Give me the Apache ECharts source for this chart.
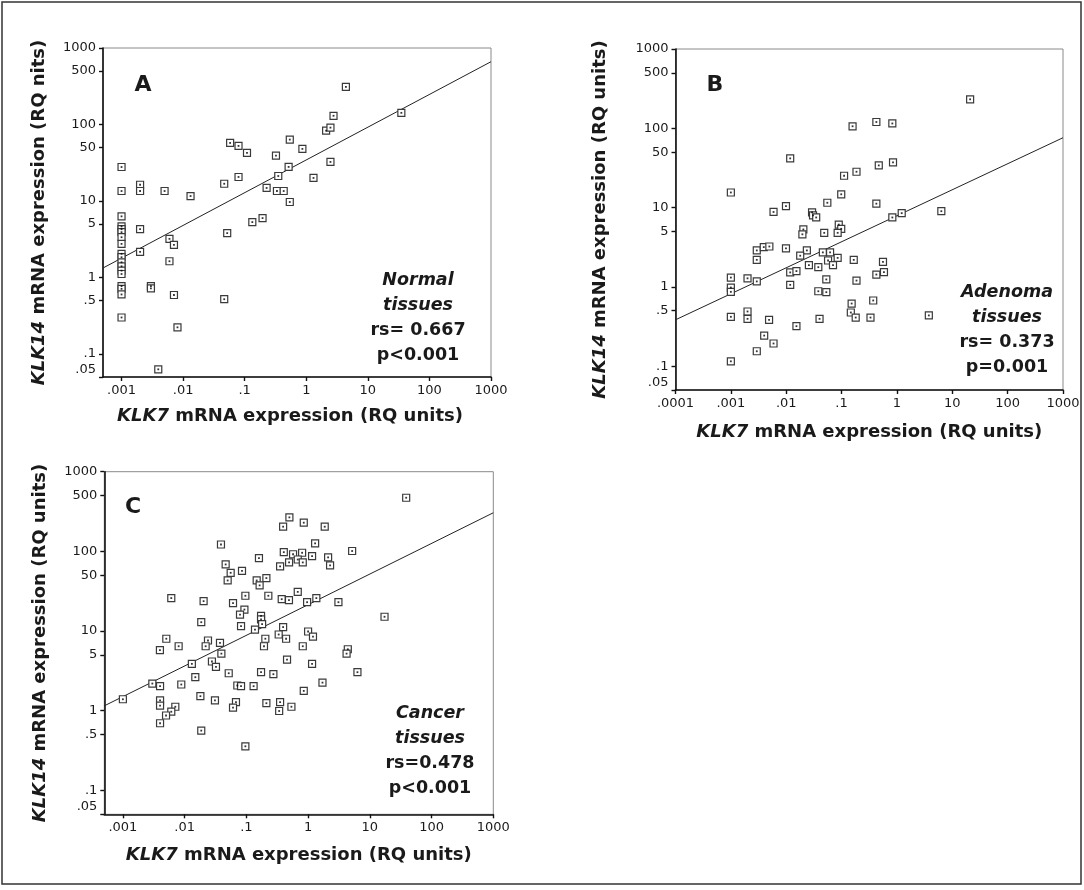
<!DOCTYPE html>
<html>
<head>
<meta charset="utf-8">
<script src="https://cdn.jsdelivr.net/npm/echarts@6/dist/echarts.min.js"></script>
<style>
  html, body { margin: 0; padding: 0; background: #fff; }
  #chart { width: 1084px; height: 890px; }
</style>
</head>
<body>
<div id="chart"></div>
<script>
// KLK7 (x) vs KLK14 (y) relative quantity, one pair of arrays per tissue type
const normalKlk7 = [0.001, 0.001, 0.001, 0.001, 0.001, 0.001, 0.001, 0.001, 0.001, 0.001, 0.001, 0.001, 0.001, 0.001, 0.001, 0.001, 0.001, 0.001,
  0.002, 0.002, 0.002, 0.002, 0.003, 0.003, 0.00395, 0.005, 0.006, 0.006, 0.0071, 0.0071, 0.0081, 0.0132,
  0.0465, 0.0465, 0.052, 0.058, 0.0794, 0.0794, 0.109, 0.133, 0.195, 0.227, 0.322, 0.334, 0.351, 0.43,
  0.517, 0.54, 0.54, 0.865, 1.31, 2.1, 2.47, 2.47, 2.77, 4.4, 35];
const normalKlk14 = [27.8, 13.5, 6.3, 4.65, 4.28, 3.91, 3.36, 2.75, 2.04, 1.84, 1.58, 1.4, 1.23, 1.11, 0.77, 0.71, 0.6, 0.3,
  16.3, 13.5, 4.28, 2.16, 0.77, 0.72, 0.063, 13.5, 3.2, 1.63, 2.67, 0.59, 0.223, 11.6,
  16.8, 0.52, 3.8, 57.4, 52.5, 20.6, 42.5, 5.3, 5.97, 14.8, 39.2, 13.5, 21.2, 13.5,
  27.9, 63.5, 9.7, 48, 20, 83, 91, 32.4, 130, 310, 142];

const adenomaKlk7 = [21, 0.425, 0.826, 0.158, 0.0118, 0.85, 0.47, 0.186, 0.111, 0.0986, 0.001, 0.0553, 0.425, 0.0099, 0.0059,
  0.0293, 0.0305, 0.0348, 6.34, 1.22, 0.826, 0.089, 0.0986, 0.0204, 0.0196, 0.0486, 0.085, 0.00294, 0.00393, 0.00496,
  0.0099, 0.0236, 0.0459, 0.062, 0.00294, 0.0179, 0.057, 0.085, 0.166, 0.56, 0.0257, 0.038, 0.07, 0.0118, 0.0153,
  0.425, 0.583, 0.001, 0.002, 0.00294, 0.053, 0.186, 0.0118, 0.001, 0.001, 0.038, 0.053, 0.373, 0.152, 0.002,
  0.147, 0.001, 0.002, 0.0049, 0.04, 0.18, 0.333, 3.77, 0.0153, 0.004, 0.0059, 0.00294, 0.001];
const adenomaKlk14 = [232, 120, 115, 106, 41.7, 37.2, 34, 28.3, 25.2, 14.7, 15.5, 11.5, 11.2, 10.4, 8.8,
  8.7, 7.95, 7.5, 9.0, 8.5, 7.5, 6.1, 5.4, 5.3, 4.6, 4.8, 4.8, 2.88, 3.17, 3.23,
  3.05, 2.88, 2.72, 2.72, 2.19, 2.47, 2.15, 2.32, 2.19, 2.07, 1.88, 1.77, 1.88, 1.52, 1.58,
  1.43, 1.53, 1.31, 1.28, 1.17, 1.24, 1.2, 1.06, 0.98, 0.865, 0.88, 0.857, 0.673, 0.616, 0.489,
  0.475, 0.419, 0.395, 0.384, 0.395, 0.41, 0.41, 0.436, 0.319, 0.243, 0.193, 0.154, 0.115];

const cancerKlk7 = [38.8, 0.498, 0.851, 0.394, 1.86, 0.0388, 1.3, 5.17, 0.404, 0.571, 0.8, 1.16, 2.11, 0.16, 0.68,
  0.492, 0.82, 2.27, 0.352, 0.0462, 0.085, 0.0557, 0.0498, 0.147, 0.211, 0.164, 0.0964, 0.227, 0.68, 0.374,
  0.49, 0.964, 1.36, 3.1, 0.00608, 0.0203, 0.0608, 0.093, 0.0789, 0.173, 0.173, 0.18, 17.3, 0.0186, 0.082,
  0.138, 0.394, 1.0, 0.334, 1.2, 0.203, 0.44, 0.00505, 0.0239, 0.0374, 0.008, 0.0219, 0.193, 0.82, 0.00398,
  4.4, 4.2, 0.0394, 0.456, 0.0277, 0.0131, 1.16, 0.0322, 6.3, 0.0518, 0.173, 0.274, 0.0149, 1.71, 0.003,
  0.00883, 0.0714, 0.082, 0.131, 0.004, 0.851, 0.018, 0.001, 0.004, 0.031, 0.0679, 0.352, 0.211, 0.004, 0.0608,
  0.537, 0.00707, 0.00608, 0.34, 0.005, 0.004, 0.0186, 0.0964];
const cancerKlk14 = [471, 267, 229, 204, 204, 122, 126, 101, 97.7, 92, 96, 87, 84, 82, 79,
  72.6, 72.6, 66.5, 64.6, 68.5, 57, 53.8, 43.1, 43.1, 46.2, 37.4, 27.7, 27.7, 31, 25.1,
  24.4, 23, 25.9, 23, 25.9, 23.7, 22.4, 18.6, 16.1, 15.5, 14, 12.2, 15.1, 12.9, 11.5,
  10.4, 11.2, 9.86, 9.04, 8.5, 8.0, 8.0, 8.0, 7.6, 7.1, 6.44, 6.44, 6.44, 6.44, 5.74,
  5.9, 5.2, 5.2, 4.38, 4.14, 3.87, 3.87, 3.55, 3.04, 2.95, 3.04, 2.87, 2.63, 2.25, 2.19,
  2.13, 2.07, 2.03, 2.03, 2.03, 1.77, 1.52, 1.39, 1.35, 1.35, 1.28, 1.28, 1.24, 1.16, 1.09,
  1.12, 1.12, 0.97, 0.99, 0.87, 0.695, 0.562, 0.357];

// Fitted log-log regression lines, end points at the axis limits
const normalFitX = [0.0005, 1000];
const normalFitY = [1.33, 662];
const adenomaFitX = [0.0001, 1000];
const adenomaFitY = [0.384, 76];
const cancerFitX = [0.0005, 1000];
const cancerFitY = [1.15, 305];

// Axis tick labels
const yTicks = [0.05, 0.1, 0.5, 1, 5, 10, 50, 100, 500, 1000];
const xTicksAC = [0.001, 0.01, 0.1, 1, 10, 100, 1000];
const xTicksB = [0.0001, 0.001, 0.01, 0.1, 1, 10, 100, 1000];

const panelLetters = ['A', 'B', 'C'];
const panelNotes = [
  ['Normal', 'tissues', 'rs= 0.667', 'p<0.001'],
  ['Adenoma', 'tissues', 'rs= 0.373', 'p=0.001'],
  ['Cancer', 'tissues', 'rs=0.478', 'p<0.001']
];
const yTitles = ['{i|KLK14} mRNA expression (RQ nits)', '{i|KLK14} mRNA expression (RQ units)', '{i|KLK14} mRNA expression (RQ units)'];
const xTitle = '{i|KLK7} mRNA expression (RQ units)';

const FONT = '"DejaVu Sans", sans-serif';
const INK = '#1a1a1a';

const zip = (xs, ys) => xs.map((x, i) => [x, ys[i]]);

function tickText(v) {
  if (Math.abs(v - 0.05) < 1e-9) return '{up|.05}';
  return v < 1 ? String(v).replace(/^0/, '') : String(v);
}

const grids = [
  { left: 103, top: 48, width: 388, height: 329 },
  { left: 675.5, top: 49, width: 387.5, height: 341 },
  { left: 104.3, top: 471.7, width: 389, height: 342.6 }
];
const xMins = [0.0005, 0.0001, 0.0005];
const xTickSets = [xTicksAC, xTicksB, xTicksAC];
const yNameGaps = [55, 66, 55];
const xNameGaps = [30, 33, 32];
const xNamePads = [[0, 14, 0, 0], [0, 0, 0, 0], [0, 0, 0, 0]];

const datasets = [
  { pts: zip(normalKlk7, normalKlk14), fit: zip(normalFitX, normalFitY) },
  { pts: zip(adenomaKlk7, adenomaKlk14), fit: zip(adenomaFitX, adenomaFitY) },
  { pts: zip(cancerKlk7, cancerKlk14), fit: zip(cancerFitX, cancerFitY) }
];

const labelStyle = {
  fontFamily: FONT, fontSize: 13, color: INK,
  rich: { up: { fontFamily: FONT, fontSize: 13, color: INK, padding: [0, 0, 15, 0] } }
};
const nameStyle = (pad) => ({
  fontFamily: FONT, fontSize: 18, fontWeight: 'bold', color: INK, padding: pad,
  rich: { i: { fontFamily: FONT, fontSize: 18, fontWeight: 'bold', fontStyle: 'italic', color: INK } }
});

const option = {
  backgroundColor: '#fff',
  animation: false,
  grid: grids.map(g => Object.assign({ show: true, borderColor: '#8a8a8a', borderWidth: 1, containLabel: false }, g)),
  xAxis: grids.map((g, i) => ({
    type: 'log', logBase: 10, gridIndex: i, min: xMins[i], max: 1000,
    name: xTitle, nameLocation: 'middle', nameGap: xNameGaps[i], nameTextStyle: nameStyle(xNamePads[i]),
    axisLine: { show: true, onZero: false, lineStyle: { color: '#111', width: 1.6 } },
    axisTick: { show: true, length: 4, customValues: xTickSets[i], lineStyle: { color: '#111', width: 1.4 } },
    axisLabel: Object.assign({ margin: 7, customValues: xTickSets[i], formatter: tickText }, labelStyle),
    splitLine: { show: false }, minorTick: { show: false }
  })),
  yAxis: grids.map((g, i) => ({
    type: 'log', logBase: 10, gridIndex: i, min: 0.05, max: 1000,
    name: yTitles[i], nameLocation: 'middle', nameGap: yNameGaps[i], nameTextStyle: nameStyle([0, 0, 0, 0]),
    axisLine: { show: true, onZero: false, lineStyle: { color: '#111', width: 1.6 } },
    axisTick: { show: true, length: 4, customValues: yTicks, lineStyle: { color: '#111', width: 1.4 } },
    axisLabel: Object.assign({ margin: 7, customValues: yTicks, formatter: tickText }, labelStyle),
    splitLine: { show: false }, minorTick: { show: false }
  })),
  series: []
};

datasets.forEach((d, i) => {
  option.series.push({
    type: 'line', xAxisIndex: i, yAxisIndex: i, data: d.fit, showSymbol: false, silent: true,
    lineStyle: { color: '#222', width: 1 }, z: 2
  });
  option.series.push({
    type: 'scatter', xAxisIndex: i, yAxisIndex: i, data: d.pts, symbol: 'rect', symbolSize: 7,
    itemStyle: { color: '#fff', borderColor: '#3a3a3a', borderWidth: 1.2, opacity: 1 }, z: 3
  });
  option.series.push({
    type: 'scatter', xAxisIndex: i, yAxisIndex: i, data: d.pts, symbol: 'rect', symbolSize: 1.8,
    itemStyle: { color: '#000' }, z: 4, silent: true
  });
});

// Panel letters and correlation notes
const letterPos = [[143, 85], [715, 85], [133, 507]];
const notePos = [[418, 280], [1007, 292], [430, 713]];
const graphics = [{
  type: 'rect', shape: { x: 2, y: 2, width: 1079, height: 882 },
  style: { fill: 'none', stroke: '#333', lineWidth: 1.5 }, silent: true
}];
panelLetters.forEach((t, i) => {
  graphics.push({
    type: 'text', x: letterPos[i][0], y: letterPos[i][1],
    style: { text: t, fontFamily: FONT, fontSize: 22, fontWeight: 'bold', fill: INK, align: 'center', verticalAlign: 'middle' }
  });
});
panelNotes.forEach((lines, i) => {
  lines.forEach((t, k) => {
    graphics.push({
      type: 'text', x: notePos[i][0], y: notePos[i][1] + k * 25.3,
      style: {
        text: t, fontFamily: FONT, fontSize: 17.5, fontWeight: 'bold',
        fontStyle: k < 2 ? 'italic' : 'normal', fill: INK, align: 'center', verticalAlign: 'middle'
      }
    });
  });
});
option.graphic = graphics;

const chart = echarts.init(document.getElementById('chart'), null, { renderer: 'canvas' });
chart.setOption(option);
</script>
</body>
</html>
